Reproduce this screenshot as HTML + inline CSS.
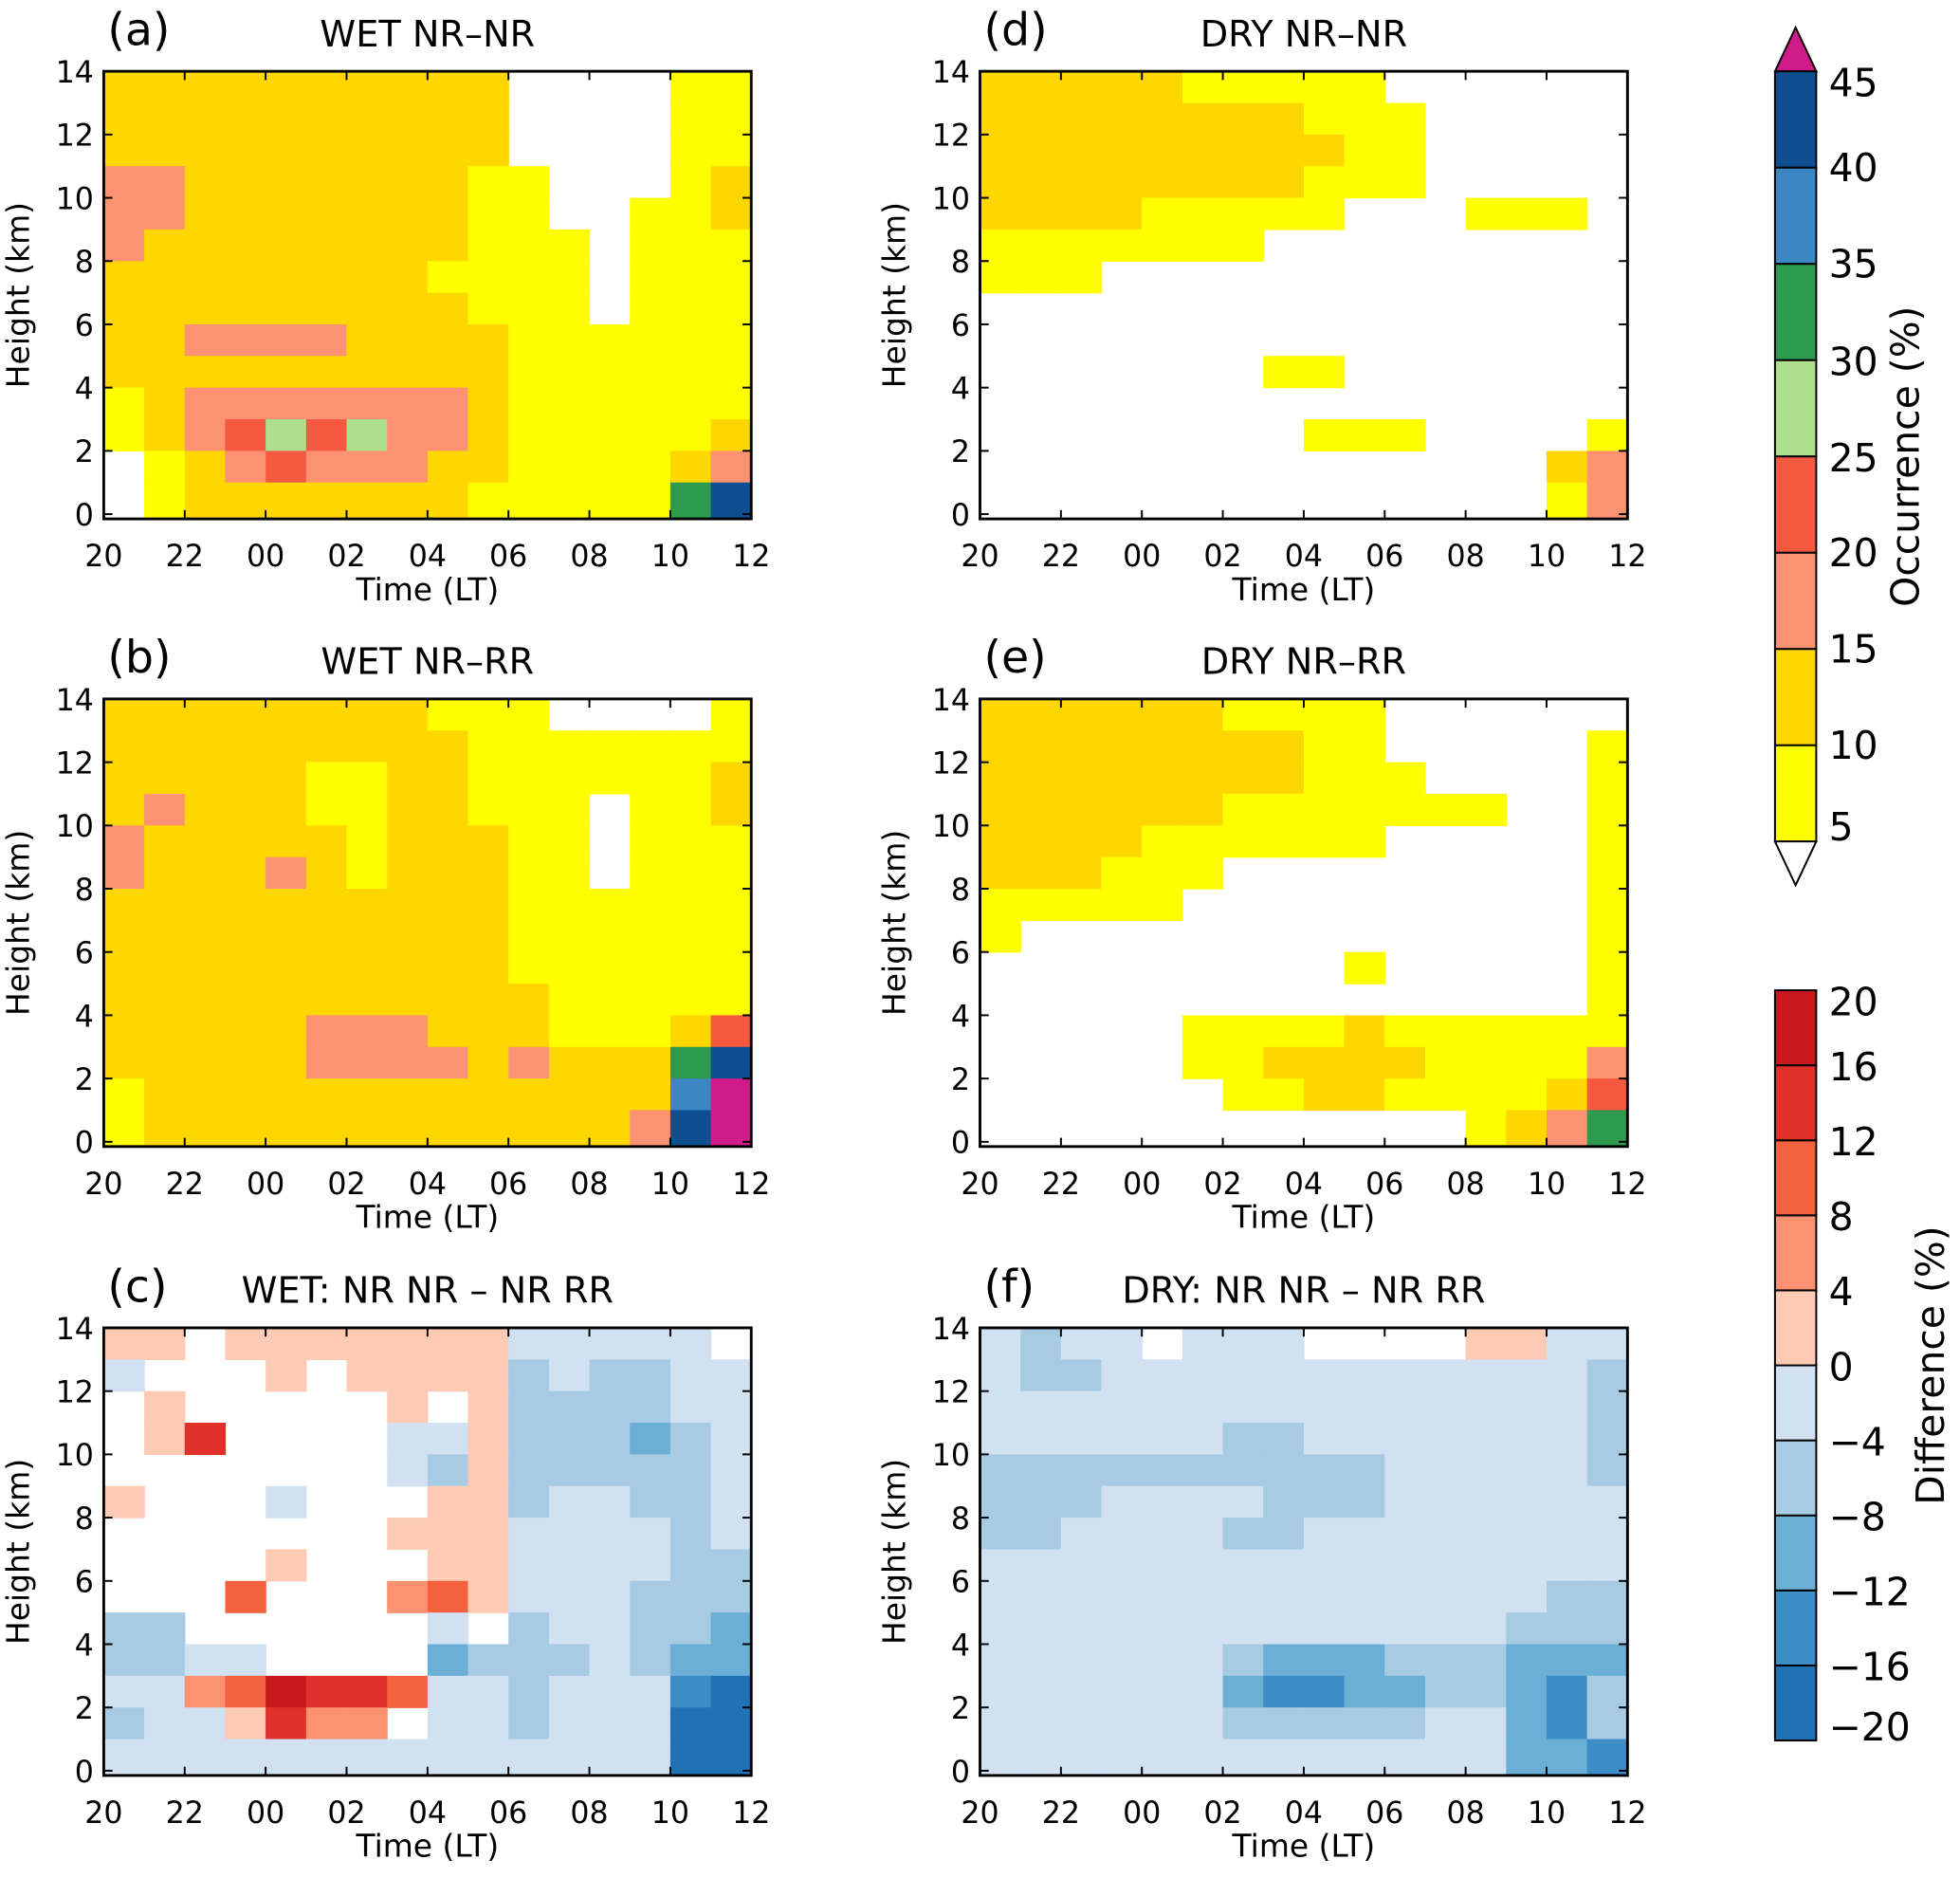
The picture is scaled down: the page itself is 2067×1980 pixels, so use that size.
<!DOCTYPE html>
<html><head><meta charset="utf-8"><style>
html,body{margin:0;padding:0;background:#fff}
svg{display:block}
text{font-family:"DejaVu Sans","Liberation Sans",sans-serif;fill:#000}
</style></head><body>
<svg id="fig" width="2067" height="1980" viewBox="0 0 1568 1502" preserveAspectRatio="none" xmlns="http://www.w3.org/2000/svg">
<g id="root"></g>
</svg>
<script>
// Time columns: hours 20..11 (start of each 1h bin), heights rows from top down to 0-1km
const timeTicks = ["20","22","00","02","04","06","08","10","12"];
const heightTicks = [0,2,4,6,8,10,12,14];
const occBounds = [5,10,15,20,25,30,35,40,45];
const occColors = ["#ffff00","#fed700","#fc9272","#f5593f","#aedf8c","#2e9a4e","#3b86c3","#0d4f91"];
const occOver = "#d01c8b";
const difBounds = [-20,-16,-12,-8,-4,0,4,8,12,16,20];
const difColors = ["#2171b5","#3d8dc6","#6baed6","#a6cbe3","#d1e1f2","#fdcab3","#fc9272","#f5603f","#e0302a","#c8191e"];

const dataA = [
[12,12,12,10,12,10,12,10,12,10,0,0,0,0,6,8],
[12,13,12,12,12,12,12,12,12,10,0,0,0,0,7,8],
[13,14,12,12,12,12,12,12,10,10,3,0,0,0,7,7],
[17,16,13,12,13,12,12,12,10,8,6,0,0,0,6,12],
[16,17,13,12,13,13,12,12,10,8,6,0,0,8,7,12],
[16,14,12,13,13,12,12,12,10,8,7,6,0,7,7,7],
[14,13,12,13,12,12,12,12,8,8,8,7,0,7,7,6],
[14,13,13,12,12,12,12,12,10,8,8,7,3,6,7,6],
[13,14,15,16,16,16,14,12,10,10,8,7,7,7,7,7],
[12,13,13,12,12,12,13,13,12,10,8,7,7,7,7,6],
[8,12,16,16,17,16,17,16,16,12,8,7,7,7,7,7],
[7,14,17,22,27,22,26,18,16,12,8,7,7,7,7,12],
[4,8,14,18,20,17,17,17,12,10,8,7,7,7,12,18],
[2,6,10,12,13,12,12,12,10,8,7,6,6,6,30,40]];
const dataB = [
[12,12,10,12,10,12,10,12,7,7,6,0,0,0,0,6],
[12,12,12,10,12,12,10,12,10,8,7,6,7,7,7,8],
[10,12,12,10,12,8,8,10,10,8,8,7,7,7,8,12],
[12,16,12,12,12,8,8,10,12,8,8,6,0,7,7,10],
[16,12,12,12,12,10,8,10,12,10,8,7,3,7,7,8],
[16,12,12,12,16,10,8,10,10,10,8,7,3,7,7,7],
[12,12,12,12,12,10,10,10,10,10,8,7,6,6,7,7],
[12,12,12,12,12,10,10,10,10,10,8,7,7,7,7,7],
[12,10,12,12,12,10,10,10,10,10,8,7,7,7,7,7],
[12,12,12,12,12,10,10,10,10,10,10,8,7,7,7,8],
[12,12,12,12,12,16,17,16,12,12,12,8,8,8,14,22],
[10,12,12,12,12,17,18,16,16,12,16,12,12,12,30,40],
[7,12,12,12,12,12,12,12,12,10,12,12,12,14,38,47],
[6,10,10,10,10,10,12,10,12,10,12,10,12,15,40,50]];
const dataD = [
[12,12,12,12,10,8,7,7,7,7,0,0,0,0,0,0],
[12,12,12,12,12,12,10,10,7,7,7,0,0,0,0,0],
[12,12,12,12,12,12,10,10,10,7,7,0,0,0,0,0],
[12,12,12,12,12,10,10,10,7,7,7,0,0,0,0,0],
[10,10,10,10,8,7,7,7,7,0,0,0,7,6,7,0],
[8,8,7,7,7,7,6,0,0,0,0,0,0,0,0,0],
[7,6,6,0,0,0,0,0,0,0,0,0,0,0,0,0],
[3,0,0,0,0,0,0,0,0,0,0,0,0,0,0,0],
[0,0,0,0,0,0,0,0,0,0,0,0,0,0,0,0],
[0,0,0,0,0,0,0,6,6,0,0,0,0,0,0,0],
[0,0,0,0,0,0,0,0,0,0,0,0,0,0,0,0],
[0,0,0,0,0,0,3,0,6,6,6,3,0,0,0,8],
[0,0,0,0,0,0,0,0,0,0,0,0,0,0,12,17],
[0,0,0,0,0,0,0,0,0,0,3,0,0,0,8,16]];
const dataE = [
[12,12,12,12,12,10,7,7,7,7,0,0,0,0,0,0],
[12,12,12,12,12,10,10,10,7,7,0,0,0,0,0,7],
[12,12,12,12,12,12,10,10,7,7,7,0,0,0,0,7],
[10,12,12,12,10,10,7,7,7,7,7,7,7,0,0,7],
[10,10,12,10,8,8,7,7,7,7,0,0,0,0,0,7],
[10,10,10,7,7,7,0,0,0,0,0,0,0,0,0,7],
[7,7,7,7,7,0,0,0,0,0,0,0,0,0,0,7],
[6,0,0,0,0,0,0,0,0,0,0,0,0,0,0,7],
[0,0,0,0,0,3,0,0,3,6,0,0,0,0,0,7],
[0,0,0,0,0,0,0,0,0,0,0,0,0,0,0,7],
[0,0,0,0,0,7,7,7,7,10,8,7,7,7,7,8],
[0,0,0,0,0,7,7,10,12,12,12,7,7,7,8,15],
[0,0,0,0,0,0,7,7,10,10,7,7,6,7,12,20],
[0,0,0,0,0,0,0,0,0,0,0,0,7,10,15,30]];
const dataC = [
[2,1,0,2,2,2,2,2,1,2,-2,-2,-2,-2,-2,0],
[-1,0,0,0,1,0,1,1,1,2,-5,-4,-6,-6,-3,-2],
[0,1,0,0,0,0,0,1,0,1,-5,-5,-5,-7,-4,-2],
[0,1,12,0,0,0,0,-2,-4,1,-8,-6,-6,-9,-5,-2],
[0,0,0,0,0,0,0,-3,-5,1,-8,-6,-6,-8,-5,-3],
[2,0,0,0,-2,0,0,0,1,2,-6,-4,-4,-6,-5,-3],
[0,0,0,0,0,0,0,1,2,1,-4,-3,-3,-4,-6,-4],
[0,0,0,0,2,0,0,0,1,1,-2,-2,-2,-4,-6,-5],
[0,0,0,8,0,0,0,6,10,2,-3,-2,-3,-5,-8,-8],
[-5,-6,0,0,0,0,0,0,-3,0,-5,-3,-3,-5,-8,-10],
[-6,-5,-3,-3,0,0,0,0,-9,-5,-8,-6,-4,-6,-10,-12],
[-4,-4,4,10,17,12,12,10,-4,-2,-6,-4,-3,-4,-14,-17],
[-5,-4,-2,1,15,4,6,0,-2,-2,-6,-4,-3,-4,-17,-18],
[-4,-4,-2,-2,-2,-2,-2,-2,-2,-2,-4,-4,-2,-4,-17,-18]];
const dataF = [
[-3,-5,-4,-2,0,-2,-1,-1,0,0,0,0,2,2,-1,-3],
[-3,-5,-5,-2,-1,-3,-2,-2,-2,-1,-1,-2,-2,-2,-3,-5],
[-2,-2,-2,-2,-1,-2,-2,-2,-2,-1,-1,-2,-1,-2,-3,-8],
[-3,-3,-2,-2,-3,-3,-5,-5,-4,-3,-3,-3,-2,-2,-3,-5],
[-7,-6,-5,-5,-5,-5,-5,-5,-5,-5,-4,-4,-3,-3,-4,-5],
[-7,-5,-5,-4,-3,-4,-4,-5,-5,-5,-4,-3,-3,-3,-4,-4],
[-6,-5,-4,-4,-3,-3,-5,-5,-4,-4,-3,-3,-2,-3,-4,-4],
[-3,-3,-2,-2,-2,-3,-4,-4,-4,-3,-3,-3,-2,-3,-4,-4],
[-2,-2,-1,-2,-2,-2,-4,-4,-3,-3,-3,-2,-2,-3,-5,-5],
[-2,-2,-2,-2,-2,-2,-3,-4,-4,-4,-3,-3,-3,-6,-7,-6],
[-2,-3,-3,-2,-2,-3,-7,-9,-10,-10,-8,-6,-5,-9,-12,-10],
[-2,-3,-3,-3,-3,-4,-10,-13,-14,-12,-10,-8,-6,-12,-14,-8],
[-3,-3,-3,-2,-2,-3,-5,-6,-6,-6,-5,-4,-4,-12,-14,-6],
[-3,-2,-2,-2,-2,-2,-2,-3,-3,-3,-3,-2,-2,-10,-12,-14]];

const NS="http://www.w3.org/2000/svg";
const root=document.getElementById('root');
function mk(tag,attrs,parent,txt){const e=document.createElementNS(NS,tag);for(const k in attrs)e.setAttribute(k,attrs[k]);if(txt!==undefined)e.textContent=txt;(parent||root).appendChild(e);return e;}
function occColor(v){if(v<5)return null;if(v>=45)return occOver;return occColors[Math.floor((v-5)/5)];}
function difColor(v){if(v===0)return null;if(v>-4&&v<0)return difColors[4];if(v>0&&v<4)return difColors[5];const i=Math.max(0,Math.min(9,Math.floor((v+20)/4)));return difColors[i];}

const panels=[
 {id:'a',title:'WET NR–NR',x0:83,y0:57,data:dataA,kind:'occ'},
 {id:'b',title:'WET NR–RR',x0:83,y0:559,data:dataB,kind:'occ'},
 {id:'c',title:'WET: NR NR – NR RR',x0:83,y0:1062,data:dataC,kind:'dif'},
 {id:'d',title:'DRY NR–NR',x0:784,y0:57,data:dataD,kind:'occ'},
 {id:'e',title:'DRY NR–RR',x0:784,y0:559,data:dataE,kind:'occ'},
 {id:'f',title:'DRY: NR NR – NR RR',x0:784,y0:1062,data:dataF,kind:'dif'}];
const W=518,H=358,unit=25.3,hourPx=W/16;
panels.forEach(p=>{
  const g=mk('g',{});
  
  
  const xS=h=>p.x0+h*hourPx;
  const yS=km=>p.y0+(14-km)*unit;
  const nr=p.data.length;
  p.data.forEach((row,ri)=>{
    const kmTop=14-ri*(14/nr), kmBot=14-(ri+1)*(14/nr);
    const yb= ri===nr-1? p.y0+H : yS(kmBot);
    row.forEach((v,ci)=>{
      const c=p.kind==='occ'?occColor(v):difColor(v);
      if(!c)return;
      const r=mk('rect',{x:xS(ci),y:yS(kmTop),width:hourPx+0.5,height:yb-yS(kmTop)+0.5,fill:c},g);
      
      
    });
  });
  const fr=mk('rect',{x:p.x0,y:p.y0,width:W,height:H,fill:'none',stroke:'#000','stroke-width':2.2},g);
  
  
  timeTicks.forEach((t,i)=>{
    const x=xS(i*2);
    mk('line',{x1:x,x2:x,y1:p.y0,y2:p.y0+7,stroke:'#000','stroke-width':1.5},g);
    mk('line',{x1:x,x2:x,y1:p.y0+H,y2:p.y0+H-7,stroke:'#000','stroke-width':1.5},g);
    const tl=mk('text',{x:x,y:p.y0+H+38,'font-size':24,'text-anchor':'middle'},g,t);
    
    
  });
  heightTicks.forEach(h=>{
    const y=yS(h);
    mk('line',{x1:p.x0,x2:p.x0+7,y1:y,y2:y,stroke:'#000','stroke-width':1.5},g);
    mk('line',{x1:p.x0+W,x2:p.x0+W-7,y1:y,y2:y,stroke:'#000','stroke-width':1.5},g);
    const tl=mk('text',{x:p.x0-8,y:y+9,'font-size':24,'text-anchor':'end'},g,String(h));
    
    
  });
  const xt=mk('text',{x:p.x0+W/2,y:p.y0+H+65,'font-size':25,'text-anchor':'middle'},g,'Time (LT)');
  
  
  const cy=p.y0+H/2;
  const yt=mk('text',{x:p.x0-60,y:cy,'font-size':25,'text-anchor':'middle',transform:`rotate(-90 ${p.x0-60} ${cy})`},g,'Height (km)');
  
  
  const lb=mk('text',{x:p.x0+3,y:p.y0-21,'font-size':36},g,'('+p.id+')');
  
  
  const tt=mk('text',{x:p.x0+W/2,y:p.y0-20,'font-size':29,'text-anchor':'middle'},g,p.title);
  
  
});

(function(){
  const g=mk('g',{});
  
  
  const x=1420,w=33,top=57,seg=77;
  for(let i=0;i<8;i++){
    const y=top+(7-i)*seg;
    mk('rect',{x:x,y:y,width:w,height:seg,fill:occColors[i],stroke:'#000','stroke-width':1.5},g);
  }
  mk('polygon',{points:`${x},${top} ${x+w},${top} ${x+w/2},${top-35}`,fill:occOver,stroke:'#000','stroke-width':1.5},g);
  const bot=top+8*seg;
  mk('polygon',{points:`${x},${bot} ${x+w},${bot} ${x+w/2},${bot+35}`,fill:'#fff',stroke:'#000','stroke-width':1.5},g);
  const labY=[660,595,518,441,365,288,210,133,65];
  occBounds.forEach((b,i)=>{
    const t=mk('text',{x:1463,y:labY[i]+12,'font-size':31},g,String(b));
    
    
  });
  const t=mk('text',{x:1535,y:365,'font-size':31,'text-anchor':'middle',transform:'rotate(-90 1535 365)'},g,'Occurrence (%)');
  
  
})();
(function(){
  const g=mk('g',{});
  
  
  const x=1420,w=33,top=792,seg=60;
  for(let i=0;i<10;i++){
    const y=top+(9-i)*seg;
    mk('rect',{x:x,y:y,width:w,height:seg,fill:difColors[i],stroke:'#000','stroke-width':1.5},g);
  }
  const labY=[1380,1332,1272,1212,1152,1092,1032,972,912,852,800];
  difBounds.forEach((b,i)=>{
    const s=b<0?'−'+Math.abs(b):String(b);
    const t=mk('text',{x:1463,y:labY[i]+12,'font-size':31},g,s);
    
    
  });
  const t=mk('text',{x:1555,y:1092,'font-size':31,'text-anchor':'middle',transform:'rotate(-90 1555 1092)'},g,'Difference (%)');
  
  
})();
</script>
</body></html>
